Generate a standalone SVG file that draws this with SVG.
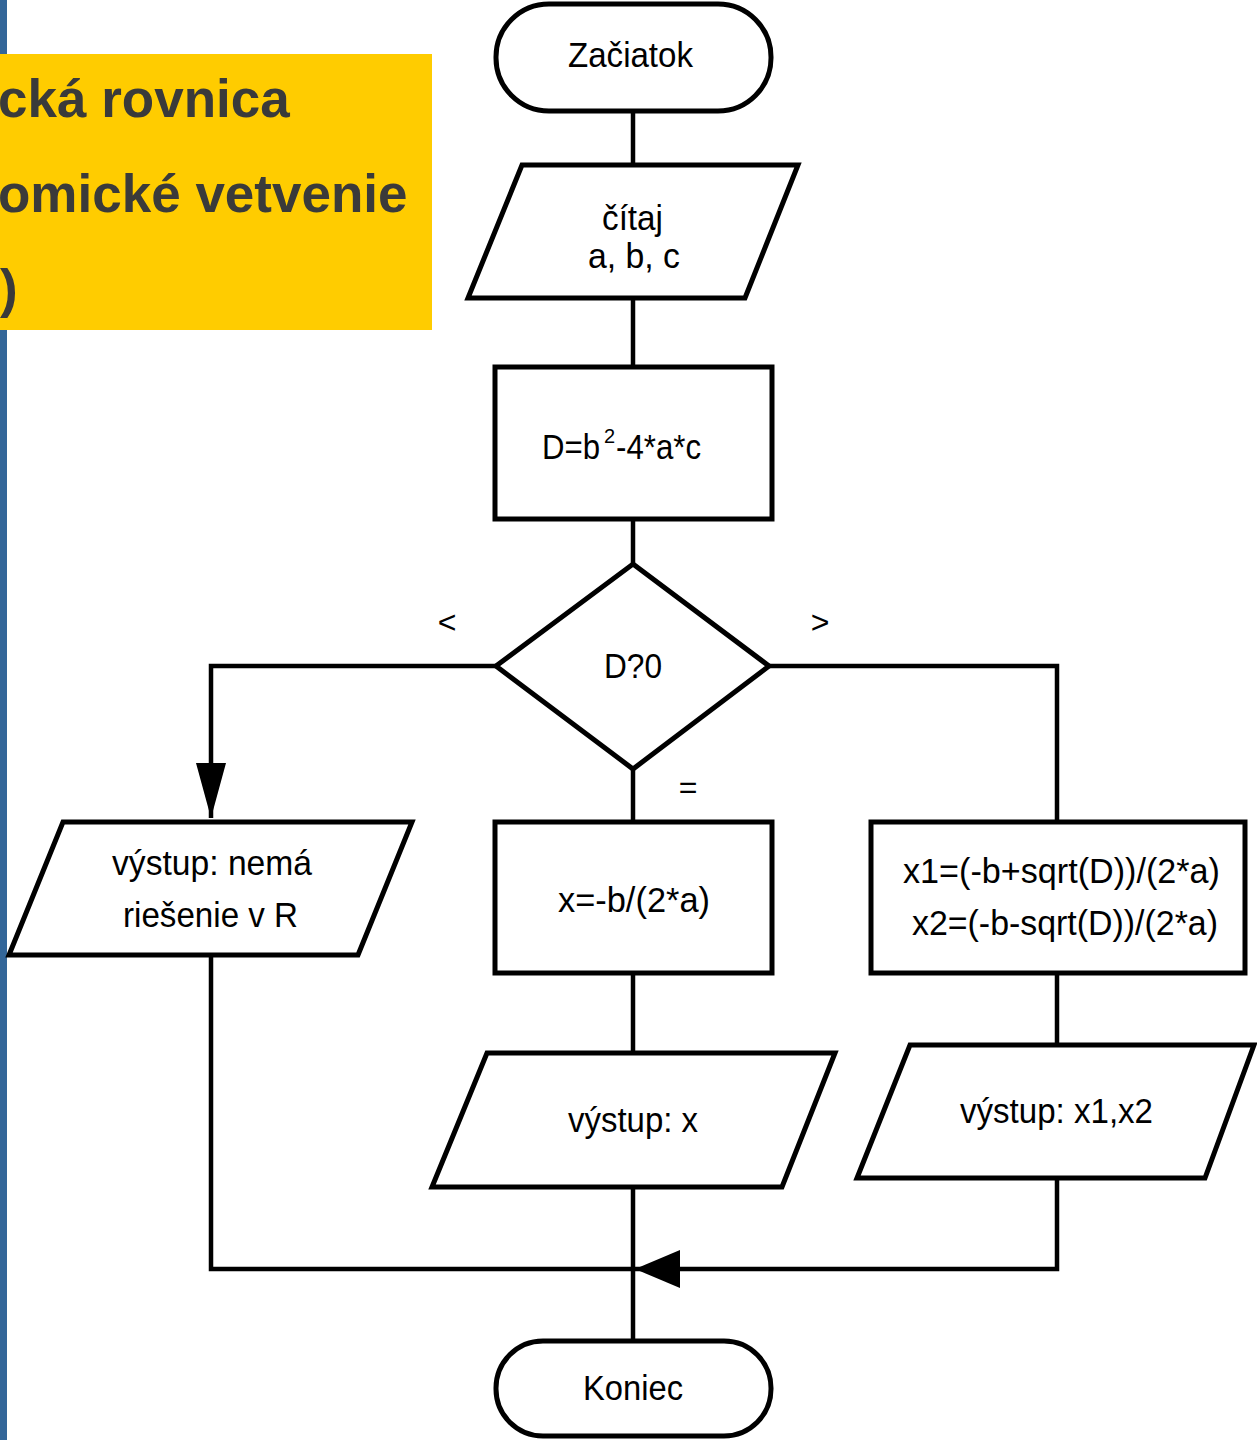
<svg xmlns="http://www.w3.org/2000/svg" width="1257" height="1440" viewBox="0 0 1257 1440">
<style>
.shape{fill:#fff;stroke:#000;stroke-width:5;stroke-linejoin:miter}
.conn{fill:none;stroke:#000;stroke-width:4.5;stroke-linejoin:miter}
.t{font-family:"Liberation Sans",Arial,sans-serif;font-size:35px;fill:#000}
.lbl{font-family:"Liberation Sans",Arial,sans-serif;font-size:32px;fill:#000;text-anchor:middle}
.title{font-family:"Liberation Sans",Arial,sans-serif;font-size:53px;font-weight:bold;fill:#3a3a3a}
</style>
<defs>
<marker id="arrowDown" markerUnits="userSpaceOnUse" markerWidth="56" markerHeight="32" refX="55" refY="15" orient="auto">
<path d="M0,0 L55,15 L0,30 z" fill="#000"/>
</marker>
<marker id="arrowLeft" markerUnits="userSpaceOnUse" markerWidth="46" markerHeight="40" refX="45" refY="19" orient="auto">
<path d="M0,0 L45,19 L0,38 z" fill="#000"/>
</marker>
</defs>
<rect width="1257" height="1440" fill="#fff"/>
<rect x="0" y="0" width="7" height="1440" fill="#336699"/>
<g id="title">
<rect x="0" y="54" width="432" height="276" fill="#ffcc00"/>
<text class="title" x="-2" y="117">cká rovnica</text>
<text class="title" x="-2" y="212">omické vetvenie</text>
<text class="title" x="0" y="307">)</text>
</g>
<g id="connectors">
<path class="conn" d="M633,111 V165"/>
<path class="conn" d="M633,298 V367"/>
<path class="conn" d="M633,519 V564"/>
<path class="conn" d="M496,666 H211 V818" marker-end="url(#arrowDown)"/>
<path class="conn" d="M769,666 H1057 V822"/>
<path class="conn" d="M633,769 V822"/>
<path class="conn" d="M633,973 V1053"/>
<path class="conn" d="M1057,973 V1045"/>
<path class="conn" d="M211,955 V1269 H633"/>
<path class="conn" d="M1057,1178 V1269 H635" marker-end="url(#arrowLeft)"/>
<path class="conn" d="M633,1187 V1340"/>
<text class="lbl" x="447" y="633">&lt;</text>
<text class="lbl" x="820" y="633">&gt;</text>
<text class="lbl" x="688" y="798">=</text>
</g>
<g id="start">
<rect class="shape" x="496" y="4" width="275" height="107" rx="53" ry="53"/>
<text class="t" x="568" y="67" textLength="125" lengthAdjust="spacingAndGlyphs">Začiatok</text>
</g>
<g id="input">
<polygon class="shape" points="522,165 798,165 745,298 468,298"/>
<text class="t" x="602" y="230" textLength="61" lengthAdjust="spacingAndGlyphs">čítaj</text>
<text class="t" x="588" y="268" textLength="92" lengthAdjust="spacingAndGlyphs">a, b, c</text>
</g>
<g id="discriminant">
<rect class="shape" x="495" y="367" width="277" height="152"/>
<text class="t" x="542" y="459"><tspan textLength="58" lengthAdjust="spacingAndGlyphs">D=b</tspan><tspan x="604" y="443" font-size="20">2</tspan><tspan x="616" y="459" textLength="85" lengthAdjust="spacingAndGlyphs">-4*a*c</tspan></text>
</g>
<g id="decision">
<polygon class="shape" points="633,564 769,666 633,769 496,666"/>
<text class="t" x="604" y="678" textLength="58" lengthAdjust="spacingAndGlyphs">D?0</text>
</g>
<g id="noSolution">
<polygon class="shape" points="63,822 412,822 358,955 9,955"/>
<text class="t" x="112" y="875" textLength="200" lengthAdjust="spacingAndGlyphs">výstup: nemá</text>
<text class="t" x="123" y="927" textLength="175" lengthAdjust="spacingAndGlyphs">riešenie v R</text>
</g>
<g id="singleRoot">
<rect class="shape" x="495" y="822" width="277" height="151"/>
<text class="t" x="558" y="912" textLength="152" lengthAdjust="spacingAndGlyphs">x=-b/(2*a)</text>
</g>
<g id="outputX">
<polygon class="shape" points="487,1053 835,1053 782,1187 432,1187"/>
<text class="t" x="568" y="1132" textLength="130" lengthAdjust="spacingAndGlyphs">výstup: x</text>
</g>
<g id="twoRoots">
<rect class="shape" x="871" y="822" width="374" height="151"/>
<text class="t" x="903" y="883" textLength="317" lengthAdjust="spacingAndGlyphs">x1=(-b+sqrt(D))/(2*a)</text>
<text class="t" x="912" y="935" textLength="306" lengthAdjust="spacingAndGlyphs">x2=(-b-sqrt(D))/(2*a)</text>
</g>
<g id="outputX1X2">
<polygon class="shape" points="910,1045 1254,1045 1205,1178 857,1178"/>
<text class="t" x="960" y="1123" textLength="193" lengthAdjust="spacingAndGlyphs">výstup: x1,x2</text>
</g>
<g id="end">
<rect class="shape" x="496" y="1341" width="275" height="95" rx="47" ry="47"/>
<text class="t" x="583" y="1400" textLength="100" lengthAdjust="spacingAndGlyphs">Koniec</text>
</g>
</svg>
